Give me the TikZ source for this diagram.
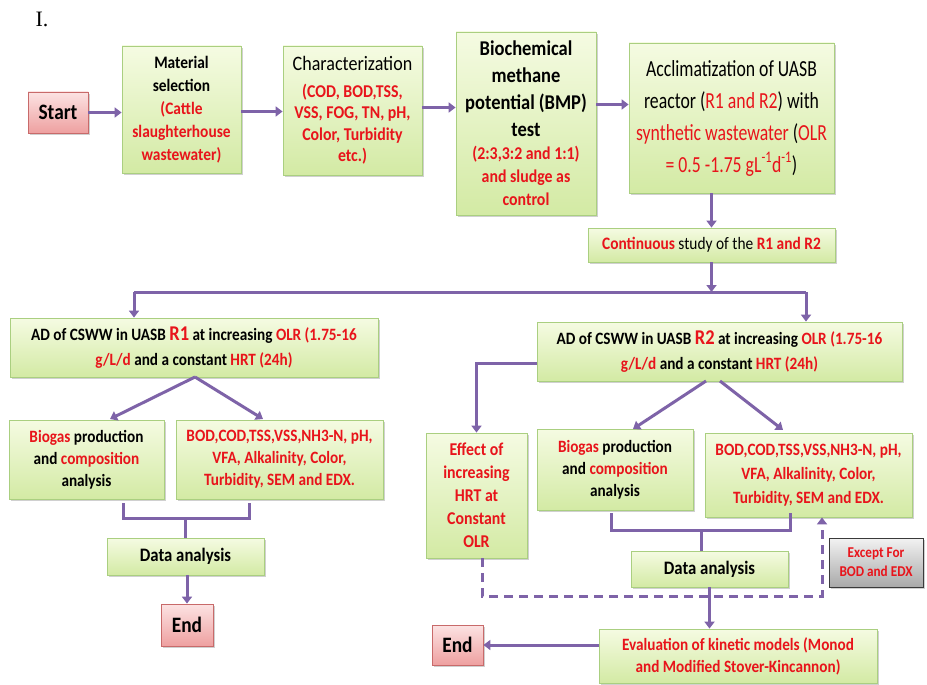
\documentclass[tikz,border=0pt]{standalone}
\usepackage{fontspec}
\setmainfont{Carlito}[FakeStretch=0.88]
\newfontfamily\accfont{Carlito}[FakeStretch=0.77]
\newfontfamily\serifI{Liberation Serif}
\usetikzlibrary{arrows.meta,shadows,calc}
\definecolor{gtop}{HTML}{F5FBE2}
\definecolor{gbot}{HTML}{D3EAA4}
\definecolor{gline}{HTML}{AACF80}
\definecolor{ptop}{HTML}{FCE3E3}
\definecolor{pbot}{HTML}{EEA0A0}
\definecolor{pline}{HTML}{C86A6A}
\definecolor{xtop}{HTML}{F2F2F2}
\definecolor{xbot}{HTML}{A9A9A9}
\definecolor{xline}{HTML}{3A3A3A}
\definecolor{arrc}{HTML}{7E63A8}
\definecolor{txtred}{HTML}{E8141B}
\newcommand{\redt}[1]{\textcolor{txtred}{#1}}
\newcommand{\fs}[2]{\fontsize{#1}{#2}\selectfont}
\begin{document}
\begin{tikzpicture}[x=1pt,y=-1pt,
  gbox/.style={draw=gline, line width=0.8pt, top color=gtop, bottom color=gbot,
    align=center, inner sep=1pt,
    drop shadow={shadow xshift=1.6pt, shadow yshift=-1.8pt, opacity=0.3, fill=black!60}},
  pbox/.style={gbox, draw=pline, top color=ptop, bottom color=pbot},
  xbox/.style={gbox, draw=xline, top color=xtop, bottom color=xbot},
  arr/.style={draw=arrc, line width=3pt, -{Triangle[length=7pt,width=10pt]}},
  ln/.style={draw=arrc, line width=3pt},
  darr/.style={arr, dash pattern=on 9pt off 6pt}
]
\useasboundingbox[fill=white] (0,0) rectangle (927,685);

\node[font={\serifI\fs{22}{26}}] (lbl) at (42,19) {I.};

% top row
\node[pbox, minimum width=60pt, minimum height=41pt, font={\bfseries\fs{22}{26}}] (start) at (58,112.5) {Start};
\node[gbox, minimum width=119pt, minimum height=127pt, font={\bfseries\fs{17.5}{23}}] (mat) at (181.5,109.5)
  {Material\\selection\\\redt{(Cattle}\\\redt{slaughterhouse}\\\redt{wastewater)}};
\node[gbox, minimum width=139pt, minimum height=129pt, font={\bfseries\fs{18}{21.5}}] (chr) at (352.5,110.5)
  {{\mdseries\fs{20.5}{27}Characterization}\\[5pt]\redt{(COD, BOD,TSS,}\\\redt{VSS, FOG, TN, pH,}\\\redt{Color, Turbidity}\\\redt{etc.)}};
\node[gbox, minimum width=140pt, minimum height=183pt, font={\bfseries\fs{18}{23}}] (bmp) at (526,123.5)
  {{\fs{21}{27}Biochemical}\\[4pt]{\fs{21}{27}methane}\\[4pt]{\fs{21}{27}potential (BMP)}\\[4pt]{\fs{21}{27}test}\\
   \redt{(2:3,3:2 and 1:1)}\\\redt{and sludge as}\\\redt{control}};
\node[gbox, minimum width=205pt, minimum height=150pt, font={\accfont\fs{23}{32}}] (acc) at (731.5,118)
  {Acclimatization of UASB\\reactor (\redt{R1 and R2}) with\\\redt{synthetic wastewater} (\redt{OLR}\\\redt{= 0.5 -1.75 gL\textsuperscript{-1}d\textsuperscript{-1}})};
\node[gbox, minimum width=247pt, minimum height=34pt, font={\fs{17.5}{21}}] (cont) at (711.5,245)
  {\redt{\bfseries Continuous} study of the \redt{\bfseries R1 and R2}};

% second level
\node[gbox, minimum width=368pt, minimum height=59pt, font={\bfseries\fs{17.3}{25}}] (r1) at (194,347.5)
  {AD of CSWW in UASB \redt{\fs{21}{25}R1} at increasing \redt{OLR (1.75-16}\\\redt{g/L/d} and a constant \redt{HRT (24h)}};
\node[gbox, minimum width=365pt, minimum height=59pt, font={\bfseries\fs{17.3}{25}}] (r2) at (719.5,351.5)
  {AD of CSWW in UASB \redt{\fs{21}{25}R2} at increasing \redt{OLR (1.75-16}\\\redt{g/L/d} and a constant \redt{HRT (24h)}};

% R1 branch
\node[gbox, minimum width=155pt, minimum height=79pt, font={\bfseries\fs{17.3}{22}}] (bio1) at (86.5,459.5)
  {\redt{Biogas} production\\and \redt{composition}\\analysis};
\node[gbox, minimum width=207pt, minimum height=79pt, font={\bfseries\fs{17.3}{22}}, text=txtred] (bod1) at (279.5,459.5)
  {BOD,COD,TSS,VSS,NH3-N, pH,\\VFA, Alkalinity, Color,\\Turbidity, SEM and EDX.};
\node[gbox, minimum width=157pt, minimum height=37pt, font={\bfseries\fs{19}{23}}] (da1) at (185.5,556.5) {Data analysis};
\node[pbox, minimum width=52pt, minimum height=42pt, font={\bfseries\fs{22}{26}}] (end1) at (187,625) {End};

% R2 branch
\node[gbox, minimum width=101pt, minimum height=125pt, font={\bfseries\fs{18}{23}}, text=txtred] (eff) at (476.5,495.5)
  {Effect of\\increasing\\HRT at\\Constant\\OLR};
\node[gbox, minimum width=156pt, minimum height=81pt, font={\bfseries\fs{17.3}{22}}] (bio2) at (615,469.5)
  {\redt{Biogas} production\\and \redt{composition}\\analysis};
\node[gbox, minimum width=207pt, minimum height=84pt, font={\bfseries\fs{17.3}{24}}, text=txtred] (bod2) at (808.5,475)
  {BOD,COD,TSS,VSS,NH3-N, pH,\\VFA, Alkalinity, Color,\\Turbidity, SEM and EDX.};
\node[gbox, minimum width=157pt, minimum height=36pt, font={\bfseries\fs{19}{23}}] (da2) at (709.5,569) {Data analysis};
\node[gbox, minimum width=278pt, minimum height=54pt, font={\bfseries\fs{17.3}{22}}, text=txtred] (eval) at (738,656)
  {Evaluation of kinetic models (Monod\\and Modified Stover-Kincannon)};
\node[pbox, minimum width=51pt, minimum height=40pt, font={\bfseries\fs{22}{26}}] (end2) at (457.5,645) {End};
\node[xbox, minimum width=94pt, minimum height=49pt, font={\bfseries\fs{15}{19}}, text=txtred] (exc) at (876,562.5)
  {Except For\\BOD and EDX};

% top row connectors
\draw[arr] (start.east) -- (start.east -| mat.west);
\draw[arr] ([yshift=-2pt]mat.east) -- ([yshift=-2pt]mat.east -| chr.west);
\draw[arr] ([yshift=3pt]chr.east) -- ([yshift=3pt]chr.east -| bmp.west);
\draw[arr] ([yshift=19pt]bmp.east) -- ([yshift=19pt]bmp.east -| acc.west);
\draw[arr] (cont.north |- acc.south) -- (cont.north);

% split to R1 / R2
\coordinate (hs) at (711.5,292);
\coordinate (hl) at (134,292);
\coordinate (hr) at (806,292);
\draw[arr] (cont.south) -- (hs);
\draw[ln] (hl) -- (hr);
\draw[arr] (hl) -- (hl |- r1.north);
\draw[arr] (hr) -- (hr |- r2.north);

% R1 branches
\coordinate (r1b) at (195,377);
\draw[arr] (r1b) -- (110,419);
\draw[arr] (r1b) -- (263,419);
\draw[ln] (123,503) -- (123,518) -- (249,518) -- (249,503);
\draw[ln] (da1.north |- 0,518) -- (da1.north);
\draw[arr] (end1.north |- da1.south) -- (end1.north);

% R2 branches
\draw[arr] ([yshift=-11.5pt]r2.west) -| (eff.north);
\draw[arr] (706,381) -- (633,429);
\draw[arr] (720,381) -- (783,430);
\draw[ln] (611,513) -- (611,530) -- (790,530) -- (790,513);
\draw[ln] (701,530) -- (701,551);
\draw[arr] (da2.south) -- (da2.south |- eval.north);
\draw[arr] (eval.west |- end2.east) -- (end2.east);
\draw[darr] (eff.south -| 482,0) -- (482,596) -| (bod2.south -| 822,0);
\end{tikzpicture}
\end{document}
